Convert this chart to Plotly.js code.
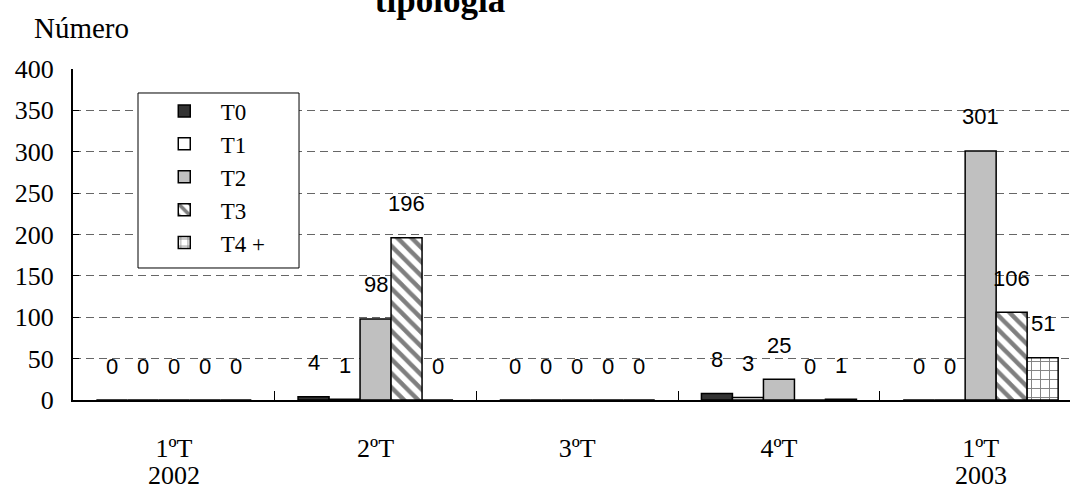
<!DOCTYPE html>
<html>
<head>
<meta charset="utf-8">
<script src="https://cdn.plot.ly/plotly-3.0.1.min.js"></script>
<style>
  html, body { margin: 0; padding: 0; background: #ffffff; }
  #chart { width: 1070px; height: 487px; }
</style>
</head>
<body>
<div id="chart"></div>
<script>
// ---- data ----
const categories = ['1ºT', '2ºT', '3ºT', '4ºT', '1ºT'];
const years = ['2002', '', '', '', '2003'];
const seriesNames = ['T0', 'T1', 'T2', 'T3', 'T4 +'];
const T0 = [0, 4, 0, 8, 0];
const T1 = [0, 1, 0, 3, 0];
const T2 = [0, 98, 0, 25, 301];
const T3 = [0, 196, 0, 0, 106];
const T4 = [0, 0, 0, 1, 51];
const yTicks = [0, 50, 100, 150, 200, 250, 300, 350, 400];

// ---- styling ----
const seriesValues = [T0, T1, T2, T3, T4];
const fills = ['#333333', '#ffffff', '#c0c0c0', '#ffffff', '#ffffff'];
const patterns = [
  {shape: ''},
  {shape: ''},
  {shape: ''},
  {shape: '\\', fgcolor: '#000000', bgcolor: '#ffffff', size: 10, solidity: 0.45, fillmode: 'overlay'},
  {shape: '+', fgcolor: '#000000', bgcolor: '#ffffff', size: 9, solidity: 0.2, fillmode: 'overlay'}
];
const BARGAP = 0.2315;
const serif = 'Liberation Serif';
const sans = 'Liberation Sans';

const xIdx = categories.map((_, i) => i);

const traces = seriesValues.map((vals, s) => ({
  type: 'bar',
  name: seriesNames[s],
  x: xIdx,
  y: vals,
  legendgroup: 'g' + s,
  marker: {
    color: fills[s],
    line: {color: '#000000', width: 1.5},
    pattern: patterns[s]
  },
  hoverinfo: 'skip'
}));

// data labels: above each bar, using axis scales
const bw = (1 - BARGAP) / seriesValues.length;
const annotations = [];
seriesValues.forEach((vals, s) => {
  vals.forEach((v, i) => {
    annotations.push({
      x: i + (s - (seriesValues.length - 1) / 2) * bw,
      y: v,
      xref: 'x', yref: 'y',
      text: String(v),
      showarrow: false,
      yanchor: 'middle',
      yshift: 34,
      font: {family: sans, size: 22, color: '#000000'}
    });
  });
});
// year second line under category labels
years.forEach((yr, i) => {
  if (!yr) return;
  annotations.push({
    x: i, y: 0, xref: 'x', yref: 'paper',
    text: yr, showarrow: false, yanchor: 'middle', yshift: -75,
    font: {family: serif, size: 26, color: '#000000'}
  });
});
// y axis caption
annotations.push({
  x: 0.009, y: 1.124, xref: 'paper', yref: 'paper',
  text: 'Número', showarrow: false, yanchor: 'middle', xanchor: 'center',
  font: {family: serif, size: 29, color: '#000000'}
});

const layout = {
  width: 1070,
  height: 487,
  margin: {l: 73, r: 0, t: 69, b: 87, pad: 0},
  paper_bgcolor: '#ffffff',
  plot_bgcolor: '#ffffff',
  barmode: 'group',
  bargap: BARGAP,
  bargroupgap: 0,
  showlegend: true,
  title: {
    text: '<b>tipologia</b>',
    x: 440 / 1070, xanchor: 'center',
    y: 1 - 12 / 487, yanchor: 'bottom',
    font: {family: serif, size: 35, color: '#000000'}
  },
  xaxis: {
    type: 'linear',
    range: [-0.5, 4.443],
    tickmode: 'array',
    tickvals: xIdx,
    ticktext: categories,
    ticks: '',
    showline: true, linecolor: '#000000', linewidth: 2,
    showgrid: false, zeroline: false,
    minor: {tickmode: 'array', tickvals: [0.5, 1.5, 2.5, 3.5], ticks: 'inside', ticklen: 9, tickwidth: 1, tickcolor: '#000000', showgrid: false},
    tickfont: {family: serif, size: 26, color: '#000000'},
    ticklabelstandoff: 24,
    fixedrange: true
  },
  yaxis: {
    range: [0, 400],
    tickmode: 'array',
    tickvals: yTicks,
    ticks: 'inside', ticklen: 6, tickwidth: 1, tickcolor: '#000000',
    showline: true, linecolor: '#000000', linewidth: 2,
    showgrid: true, gridcolor: '#666666', gridwidth: 1, griddash: '8px,5px',
    zeroline: false,
    tickfont: {family: serif, size: 26, color: '#000000'},
    ticklabelstandoff: 12,
    fixedrange: true
  },
  legend: {
    x: 0.075, y: 0.938, xanchor: 'left', yanchor: 'top',
    xref: 'paper', yref: 'paper',
    bgcolor: 'rgba(0,0,0,0)', borderwidth: 0,
    font: {family: serif, size: 23, color: '#000000'},
    tracegroupgap: 12,
    itemwidth: 63,
    traceorder: 'normal'
  },
  shapes: [{
    type: 'rect', xref: 'paper', yref: 'paper',
    x0: 0.0652, x1: 0.2267, y0: 0.3988, y1: 0.9275,
    line: {color: '#000000', width: 1}, fillcolor: '#ffffff', layer: 'above'
  }],
  annotations: annotations
};

Plotly.newPlot('chart', traces, layout, {staticPlot: true, displayModeBar: false});
</script>
</body>
</html>
